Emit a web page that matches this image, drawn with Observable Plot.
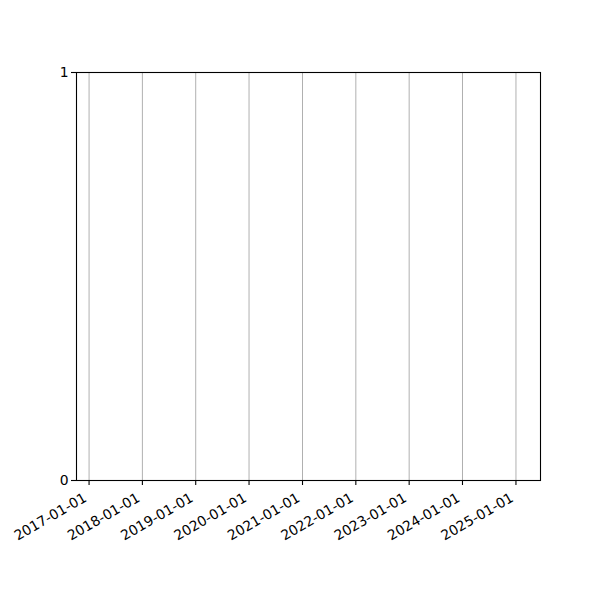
<!DOCTYPE html>
<html>
<head>
<meta charset="utf-8">
<script src="https://cdn.jsdelivr.net/npm/d3@7"></script>
<script src="https://cdn.jsdelivr.net/npm/@observablehq/plot@0.6"></script>
<style>
  html, body { margin: 0; padding: 0; background: #fff; }
  svg { display: block; }
</style>
</head>
<body>
<div id="chart"></div>
<script>
// Tick labels on the time axis (one per year)
const xTickLabels = ["2017-01-01","2018-01-01","2019-01-01","2020-01-01","2021-01-01","2022-01-01","2023-01-01","2024-01-01","2025-01-01"];
// Visible x range of the (empty) axes
const xDomain = ["2016-10-07","2025-06-18"];
// Y axis ticks and range
const yTicks = [0, 1];
const yDomain = [0, 1];

const parse = d3.utcParse("%Y-%m-%d");
const xTicks = xTickLabels.map(parse);
const fmt = d3.utcFormat("%Y-%m-%d");

const chart = Plot.plot({
  width: 600,
  height: 600,
  marginLeft: 76,
  marginRight: 60,
  marginTop: 72,
  marginBottom: 120,
  style: { fontFamily: "DejaVu Sans, sans-serif", fontSize: "13.9px", color: "#000", background: "#fff" },
  x: { type: "utc", domain: xDomain.map(parse) },
  y: { type: "linear", domain: yDomain },
  marks: [
    Plot.gridX(xTicks, { stroke: "#b0b0b0", strokeOpacity: 1, strokeWidth: 1 }),
    Plot.frame({ stroke: "#000", strokeWidth: 1.1 }),
    Plot.axisY({ ticks: yTicks, tickFormat: d3.format("d"), tickSize: 5, tickPadding: 3, fontSize: 13.9, label: null, strokeWidth: 1.1 }),
    Plot.axisX({ ticks: xTicks, tickSize: 5, tickFormat: () => "", label: null, strokeWidth: 1.1 }),
    Plot.text(xTicks, {
      x: d => d,
      frameAnchor: "bottom",
      text: d => fmt(d),
      textAnchor: "end",
      lineAnchor: "bottom",
      rotate: -30,
      dx: -1.5,
      dy: 20,
      fontSize: 13.9,
      fill: "#000"
    })
  ]
});
document.getElementById("chart").appendChild(chart);
</script>
</body>
</html>
